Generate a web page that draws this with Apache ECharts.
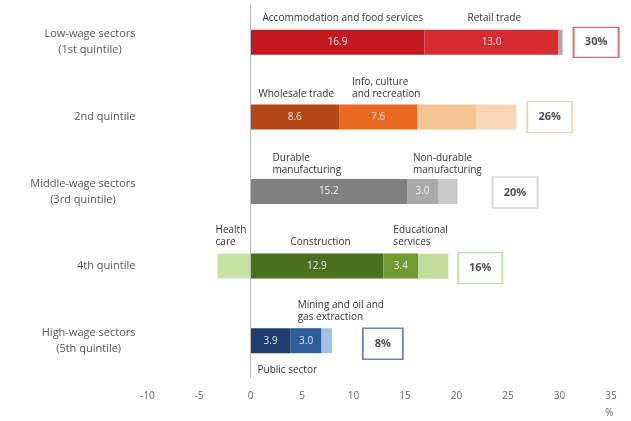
<!DOCTYPE html>
<html>
<head>
<meta charset="utf-8">
<script src="https://cdn.jsdelivr.net/npm/echarts@6/dist/echarts.min.js"></script>
<style>html,body{margin:0;padding:0;background:#fff}#c{width:631px;height:421px}</style>
</head>
<body>
<div id="c"></div>
<script>
const categories = ['Low-wage sectors\n(1st quintile)', '2nd quintile', 'Middle-wage sectors\n(3rd quintile)', '4th quintile', 'High-wage sectors\n(5th quintile)'];
const mainValues = [16.9, 8.6, 15.2, 12.9, 3.9];
const mainNames = ['Accommodation and food services', 'Wholesale trade', 'Durable\nmanufacturing', 'Construction', 'Public sector'];
const secondValues = [13.0, 7.6, 3.0, 3.4, 3.0];
const secondNames = ['Retail trade', 'Info, culture\nand recreation', 'Non-durable\nmanufacturing', 'Educational\nservices', 'Mining and oil and\ngas extraction'];
const otherValues = [0.4, 5.7, 1.9, 2.9, 1.0];
const otherValues2 = [0, 3.9, 0, 0, 0];
const negValues = [0, 0, 0, -3.2, 0];
const negNames = ['', '', '', 'Health\ncare', ''];
const totals = [30, 26, 20, 16, 8];

const FONT = 'Open Sans';
const mainColors = ['#c1191f', '#b5461a', '#808080', '#4b6e1f', '#1f3f70'];
const secondColors = ['#d62b31', '#e8691f', '#a9a9a9', '#6f9a31', '#2e5c9c'];
const otherColors = ['#b8a2a2', '#f7c494', '#c9c9c9', '#c3dd9c', '#a3c2e3'];
const other2Colors = ['#f9d6b5', '#f9d6b5', '#f9d6b5', '#f9d6b5', '#f9d6b5'];
const negColors = ['#c8e2a4', '#c8e2a4', '#c8e2a4', '#c8e2a4', '#c8e2a4'];
const boxColors = ['#cc4a4f', '#f4c9a0', '#cfcfcf', '#b9d88f', '#3b6aa8'];
// label placement (style): [dx, dy] relative to segment rect
const mainNamePos = [[12, -6], [8, -4], [22, -3], [40, -5], [7, 'below']];
const secondNamePos = [[43, -6], [13, -4], [6, -3], [10, -5], [7, -5]];
const boxOffset = [[33.5, 0], [33.5, 0], [57.5, 1], [32, 2], [51, 3]];
const boxSize = [[45, 30], [45, 31], [45, 31], [44, 31], [40, 31]];

function nameLabel(name, pos) {
  if (!name) return {show: false};
  if (pos[1] === 'below') {
    return {show: true, formatter: name, position: [pos[0], '100%'], offset: [0, 11], align: 'left', verticalAlign: 'top',
      fontFamily: FONT, fontSize: 10, color: '#333', lineHeight: 12};
  }
  return {show: true, formatter: name, position: [pos[0], pos[1]], align: 'left', verticalAlign: 'bottom',
    fontFamily: FONT, fontSize: 10, color: '#333', lineHeight: 12};
}

const valueLabel = {show: true, position: 'inside', fontFamily: FONT, fontSize: 10, color: 'rgba(255,255,255,0.85)',
  formatter: p => p.value.toFixed(1)};

function colored(vals, colors) {
  return vals.map((v, i) => ({value: v, itemStyle: {color: colors[i]}}));
}

const barBase = {type: 'bar', barWidth: 25, barGap: '-100%', silent: true};

const sums = mainValues.map((v, i) => v + secondValues[i] + otherValues[i] + otherValues2[i]);

const option = {
  animation: false,
  grid: {left: 147.5, right: 20, top: 5, bottom: 43},
  xAxis: {
    type: 'value', min: -10, max: 35, interval: 5,
    axisLine: {show: false}, axisTick: {show: false}, splitLine: {show: false},
    axisLabel: {fontFamily: FONT, fontSize: 10, color: '#666', margin: 13},
    name: '%', nameLocation: 'end', nameGap: -6,
    nameTextStyle: {fontFamily: FONT, fontSize: 10, color: '#666', verticalAlign: 'top', padding: [30, 0, 0, 0]}
  },
  yAxis: {
    type: 'category', data: categories, inverse: true,
    axisLine: {show: false}, axisTick: {show: false},
    axisLabel: {
      margin: 12, align: 'right',
      formatter: v => v.split('\n').map(l => '{c|' + l + '}').join('\n'),
      rich: {c: {align: 'center', fontFamily: FONT, fontSize: 11, color: '#555', lineHeight: 16}}
    }
  },
  series: [
    Object.assign({}, barBase, {name: 'main', stack: 's', data: colored(mainValues, mainColors), label: valueLabel,
      markLine: {silent: true, symbol: 'none', label: {show: false}, lineStyle: {color: '#bdbdbd', width: 1, type: 'solid'}, data: [{xAxis: 0}]}}),
    Object.assign({}, barBase, {name: 'second', stack: 's', data: colored(secondValues, secondColors), label: valueLabel}),
    Object.assign({}, barBase, {name: 'other', stack: 's', data: colored(otherValues, otherColors)}),
    Object.assign({}, barBase, {name: 'other2', stack: 's', data: colored(otherValues2, other2Colors)}),
    Object.assign({}, barBase, {name: 'neg', stack: 's', data: colored(negValues, negColors)}),
    Object.assign({}, barBase, {name: 'n1', stack: 'n', itemStyle: {color: 'rgba(0,0,0,0)'},
      data: mainValues.map((v, i) => ({value: v, label: nameLabel(mainNames[i], mainNamePos[i])}))}),
    Object.assign({}, barBase, {name: 'n2', stack: 'n', itemStyle: {color: 'rgba(0,0,0,0)'},
      data: secondValues.map((v, i) => ({value: v, label: nameLabel(secondNames[i], secondNamePos[i])}))}),
    Object.assign({}, barBase, {name: 'n3', stack: 'n', itemStyle: {color: 'rgba(0,0,0,0)'},
      data: negValues.map((v, i) => ({value: v, label: nameLabel(negNames[i], [-2, -5])}))}),
    {
      type: 'scatter', silent: true, z: 5,
      data: sums.map((s, i) => ({
        value: [s, i], symbol: 'rect', symbolSize: boxSize[i], symbolOffset: boxOffset[i],
        itemStyle: {color: '#fff', borderColor: boxColors[i], borderWidth: 1.6},
        label: {show: true, position: 'inside', formatter: totals[i] + '%',
          fontFamily: FONT, fontSize: 11, fontWeight: 'bold', color: '#222'}
      }))
    }
  ]
};

echarts.init(document.getElementById('c'), null, {renderer: 'canvas'}).setOption(option);
</script>
</body>
</html>
